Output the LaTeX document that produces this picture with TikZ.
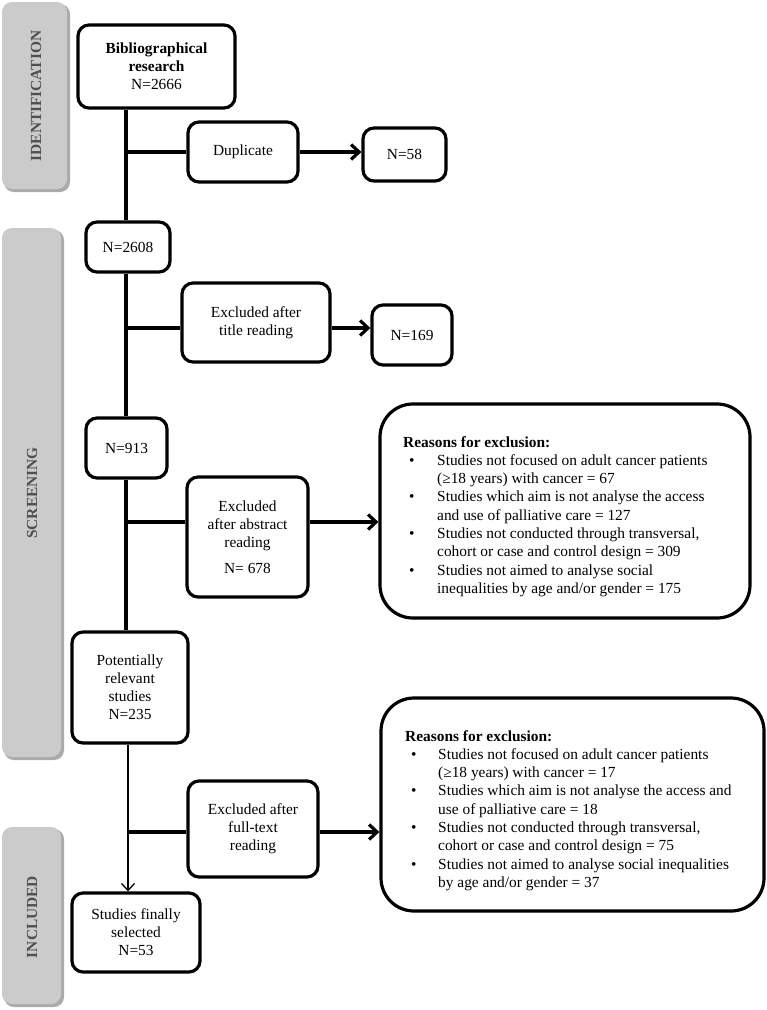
\documentclass[tikz,border=0pt]{standalone}
\usepackage{fontspec}
\setmainfont{Liberation Serif}
\usetikzlibrary{arrows.meta}
\definecolor{bargray}{HTML}{CBCBCB}
\definecolor{shadowgray}{HTML}{AAAAAA}
\definecolor{labelgray}{HTML}{505050}
\newcommand\mainfs{\fontsize{15.4}{18}\selectfont}
\newcommand\reasonfs{\fontsize{15.4}{18.3}\selectfont}
\newcommand\barfs{\fontsize{15.4}{18}\selectfont\bfseries}
\tikzset{
  box/.style={draw, line width=3.2pt, rounded corners=11pt, fill=white, align=center, inner sep=0pt, font=\mainfs},
  bigbox/.style={draw, line width=3.2pt, rounded corners=33pt, inner sep=0pt},
  conn/.style={line width=3.2pt},
  arr/.style={line width=3.2pt, -{Straight Barb[length=8pt,width=15pt]}},
  thinarr/.style={line width=1.3pt, -{Straight Barb[length=7pt,width=13pt]}},
  barlabel/.style={rotate=90, font=\barfs, text=labelgray},
  reasontext/.style={anchor=base west, inner sep=0pt, font=\reasonfs},
}
\begin{document}
\begin{tikzpicture}[x=1pt,y=-1pt]
\useasboundingbox (0,0) rectangle (767,1010);
% side bars
\fill[shadowgray, rounded corners=10pt] (4,4) rectangle (70,192);
\fill[bargray, rounded corners=10pt] (2,2) rectangle (67,189);
\node[barlabel] (lid) at (36,96) {IDENTIFICATION};
\fill[shadowgray, rounded corners=10pt] (4,230) rectangle (64,760);
\fill[bargray, rounded corners=10pt] (2,228) rectangle (61,757);
\node[barlabel] (lscr) at (32,493) {SCREENING};
\fill[shadowgray, rounded corners=10pt] (4,829) rectangle (64,1007);
\fill[bargray, rounded corners=10pt] (2,827) rectangle (61,1004);
\node[barlabel] (linc) at (32,917) {INCLUDED};
% nodes
\node[box, minimum width=157pt, minimum height=83pt] (bib) at (156.5,66.5) {\textbf{Bibliographical}\\\textbf{research}\\N=2666};
\node[box, minimum width=110pt, minimum height=60pt] (dup) at (243,152) {Duplicate};
\node[box, minimum width=83pt, minimum height=53pt] (n58) at (404.5,154.5) {\raisebox{-4pt}{N=58}};
\node[box, minimum width=84pt, minimum height=50pt] (n2608) at (128,247) {N=2608};
\node[box, minimum width=148pt, minimum height=79pt] (extitle) at (256,322.5) {Excluded after\\title reading};
\node[box, minimum width=80pt, minimum height=60pt] (n169) at (412,335) {N=169};
\node[box, minimum width=81pt, minimum height=60pt] (n913) at (126.5,448) {N=913};
\node[box, minimum width=121pt, minimum height=120pt] (exabs) at (247.5,537) {Excluded\\after abstract\\reading\\[8pt]N= 678};
\node[bigbox, minimum width=370pt, minimum height=214pt] (r1) at (565,511) {};
\node[box, minimum width=116pt, minimum height=111pt] (pot) at (130,687.5) {Potentially\\relevant\\studies\\N=235};
\node[box, minimum width=130pt, minimum height=96pt] (exfull) at (253,829) {Excluded after\\full-text\\reading};
\node[bigbox, minimum width=383pt, minimum height=213pt] (r2) at (572.5,804.5) {};
\node[box, minimum width=128pt, minimum height=79pt] (final) at (136,932.5) {Studies finally\\selected\\N=53};
% reasons texts
\node[reasontext] (r1txt) at (403,447) {\begin{tabular}[t]{@{}p{34pt}@{}l@{}}
\multicolumn{2}{@{}l@{}}{\textbf{Reasons for exclusion:}}\\
\hspace*{6pt}\textbullet & Studies not focused on adult cancer patients\\
 & (≥18 years) with cancer = 67\\
\hspace*{6pt}\textbullet & Studies which aim is not analyse the access\\
 & and use of palliative care = 127\\
\hspace*{6pt}\textbullet & Studies not conducted through transversal,\\
 & cohort or case and control design = 309\\
\hspace*{6pt}\textbullet & Studies not aimed to analyse social\\
 & inequalities by age and/or gender = 175
\end{tabular}};
\node[reasontext] (r2txt) at (405,741) {\begin{tabular}[t]{@{}p{33pt}@{}l@{}}
\multicolumn{2}{@{}l@{}}{\textbf{Reasons for exclusion:}}\\
\hspace*{6pt}\textbullet & Studies not focused on adult cancer patients\\
 & (≥18 years) with cancer = 17\\
\hspace*{6pt}\textbullet & Studies which aim is not analyse the access and\\
 & use of palliative care = 18\\
\hspace*{6pt}\textbullet & Studies not conducted through transversal,\\
 & cohort or case and control design = 75\\
\hspace*{6pt}\textbullet & Studies not aimed to analyse social inequalities\\
 & by age and/or gender = 37
\end{tabular}};
% connectors
\coordinate (sp) at (126,0);
\coordinate (sp2) at (128,0);
\coordinate (b2) at (0,328);
\coordinate (b3) at (0,522);
\coordinate (b4) at (0,832);
\draw[conn] (bib.south -| sp) -- (n2608.north -| sp);
\draw[conn] (sp |- dup.west) -- (dup.west);
\draw[arr] (dup.east) -- (dup.east -| n58.west);
\draw[conn] (n2608.south -| sp) -- (n913.north -| sp);
\draw[conn] (sp |- b2) -- (extitle.west |- b2);
\draw[arr] (extitle.east |- b2) -- (n169.west |- b2);
\draw[conn] (n913.south -| sp) -- (pot.north -| sp);
\draw[conn] (sp |- b3) -- (exabs.west |- b3);
\draw[arr] (exabs.east |- b3) -- (r1.west |- b3);
\draw[thinarr] (pot.south -| sp2) -- (final.north -| sp2);
\draw[conn] (sp2 |- b4) -- (exfull.west |- b4);
\draw[arr] (exfull.east |- b4) -- (r2.west |- b4);
\end{tikzpicture}
\end{document}
